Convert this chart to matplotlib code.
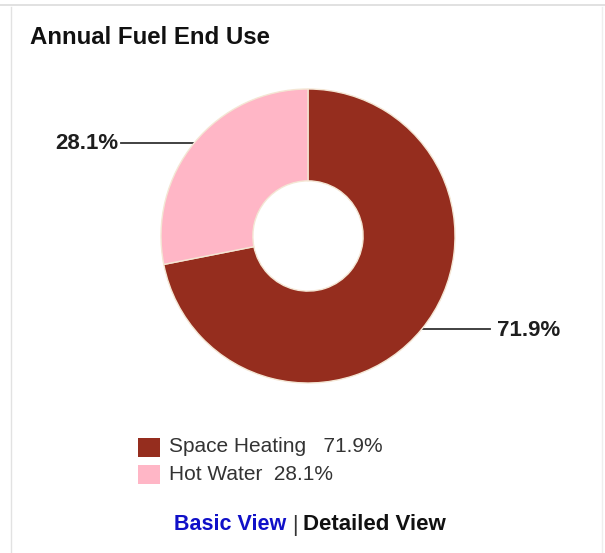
import numpy as np
import matplotlib
matplotlib.use("Agg")
import matplotlib.pyplot as plt

# ---- data ----
title = "Annual Fuel End Use"
categories = ["Space Heating", "Hot Water"]
values = [71.9, 28.1]
legend_gaps = ["   ", "  "]
colors = ["#952d1e", "#ffb6c6"]
footer_links = ["Basic View", "Detailed View"]

W, H = 605, 553
fig = plt.figure(figsize=(W / 100, H / 100), dpi=100)
fig.patch.set_facecolor("white")

# overlay axes in pixel coordinates (y downward)
ov = fig.add_axes([0, 0, 1, 1])
ov.set_xlim(0, W)
ov.set_ylim(H, 0)
ov.axis("off")

# frame border
ov.plot([0, W], [5, 5], color="#dcdcdc", lw=1.2)
ov.plot([11, 11], [7, H], color="#e2e2e2", lw=1.0)
ov.plot([602, 602], [7, H], color="#eeeeee", lw=1.0)

font = "Liberation Sans"

ov.text(30, 38, title, fontsize=17.3, fontweight="bold", family=font,
        color="#111111", ha="left", va="center")

# pie axes
cx, cy, R = 308, 236, 147
ax = fig.add_axes([(cx - R) / W, 1 - (cy + R) / H, 2 * R / W, 2 * R / H])
wedges, _ = ax.pie(values, colors=colors, startangle=90, counterclock=False,
                   radius=1.0, wedgeprops=dict(width=0.625, edgecolor="#f4e6d4",
                                               linewidth=1.0))
ax.set_aspect("auto")
ax.set_xlim(-1, 1)
ax.set_ylim(-1, 1)

# leader lines + labels
label_x = {0: (490, 497, "left"), 1: (121, 118, "right")}
for i, w in enumerate(wedges):
    mid = np.deg2rad((w.theta1 + w.theta2) / 2)
    px = cx + R * np.cos(mid)
    py = cy - R * np.sin(mid)
    lx, tx, ha = label_x[i]
    ov.plot([px, lx], [py, py], color="#333333", lw=1.3)
    ov.text(tx, py + 1, f"{values[i]:.1f}%", fontsize=16, fontweight="bold",
            family=font, color="#1e1e1e", ha=ha, va="center")

# legend
for i, (c, v) in enumerate(zip(categories, values)):
    y = 447 + i * 27
    ov.add_patch(plt.Rectangle((138, y - 9.5), 22, 19, color=colors[i], lw=0))
    ov.text(169, y, f"{c}{legend_gaps[i]}{v:.1f}%", fontsize=15, family=font,
            color="#333333", ha="left", va="center")

# footer links
ov.text(174, 525, footer_links[0], fontsize=15.5, fontweight="bold", family=font,
        color="#1010c8", ha="left", va="center")
ov.text(292, 525, "|", fontsize=15.5, family=font, color="#333333",
        ha="left", va="center")
ov.text(303, 525, footer_links[1], fontsize=16, fontweight="bold", family=font,
        color="#111111", ha="left", va="center")

fig.savefig("out.png", dpi=100, facecolor="white")
